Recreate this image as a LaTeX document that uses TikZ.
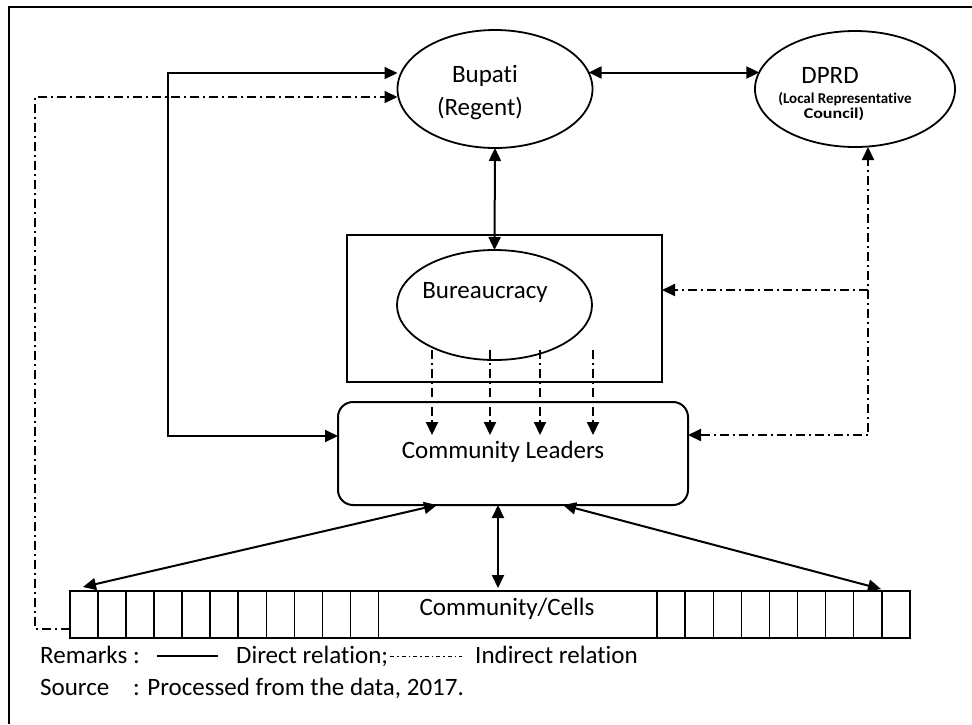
\documentclass[tikz,border=0pt]{standalone}
\usepackage{fontspec}
\setmainfont{Carlito}[Ligatures=NoCommon]
\usetikzlibrary{arrows.meta,shapes.geometric,calc}
\begin{document}
\begin{tikzpicture}[x=1pt,y=-1pt,
  >={Triangle[length=13pt,width=12pt]},
  direct/.style={line width=2pt},
  indirect/.style={line width=2pt, dash pattern=on 9pt off 4pt on 2pt off 4pt},
  legenddash/.style={line width=1pt, dash pattern=on 4pt off 3pt on 1.5pt off 3pt},
  ell/.style={draw, ellipse, line width=1.8pt, inner sep=0pt, outer sep=0pt},
  boxnode/.style={draw, rectangle, line width=2pt, inner sep=0pt, outer sep=0pt},
  cellbox/.style={draw, rectangle, line width=1.4pt, inner sep=0pt, outer sep=0pt},
  cellline/.style={line width=1.4pt},
  lbl/.style={inner sep=0pt, anchor=base, font=\fontsize{25}{30}\selectfont},
  smalllbl/.style={inner sep=0pt, anchor=base, font=\bfseries\fontsize{15}{17}\selectfont}
]
\useasboundingbox (0,0) rectangle (972,724);
% frame
\draw[line width=2pt] (972,7) -- (9,7) -- (9,724);

% nodes
\node[ell, minimum width=195pt, minimum height=118pt] (bupati) at (495,89) {};
\node[lbl] (bupatiT1) at (485,82) {Bupati};
\node[lbl] (bupatiT2) at (480,115) {(Regent)};

\node[ell, minimum width=200pt, minimum height=116pt] (dprd) at (855,89) {};
\node[lbl] (dprdT1) at (830,83) {DPRD};
\node[smalllbl] (dprdT2) at (845,103) {(Local Representative};
\node[smalllbl] (dprdT3) at (834,118) {\scalebox{1.2}[1]{Council)}};

\node[boxnode, minimum width=315pt, minimum height=147pt] (brect) at (504.5,308.5) {};
\node[ell, minimum width=195pt, minimum height=110pt] (bur) at (494.5,305) {};
\node[lbl] (burT) at (485,298) {Bureaucracy};

\node[boxnode, rounded corners=15pt, minimum width=350pt, minimum height=103pt] (cl) at (513,453.5) {};
\node[lbl] (clT) at (503,458) {Community Leaders};

\node[cellbox, minimum width=840pt, minimum height=47pt] (cells) at (490,614.5) {};
\node[lbl] (cellsT) at (507,615) {Community/Cells};
\foreach \i in {1,...,11}
  \draw[cellline] ($(cells.north west)+(\i*28.03,0)$) -- ($(cells.south west)+(\i*28.03,0)$);
\foreach \i in {0,...,8}
  \draw[cellline] ($(cells.north west)+(587+\i*28.1,0)$) -- ($(cells.south west)+(587+\i*28.1,0)$);

% coordinates
\coordinate (L1) at (168,73);
\coordinate (L2) at (168,436);
\coordinate (D1) at (35,97);
\coordinate (D2) at (35,629);
\coordinate (R1) at (868,290);
\coordinate (R2) at (868,435);

% direct relations
\draw[direct,<->] (bupati.10) -- (dprd.170 |- bupati.10);
\draw[direct,<->] (bupati.south) -- (bur.north);
\draw[direct,<->] (bupati.west |- L1) -- (L1) -- (L2) -- (cl.west |- L2);
\draw[direct,<->] ($(cl.south west)+(99,0)$) -- ($(cells.north west)+(13,-4)$);
\draw[direct,<->] ($(cl.south west)+(225,0)$) -- ($(cells.north west)+(811,-2)$);
\draw[direct,<->] ($(cl.south west)+(160,0)$) -- ($(cells.north west)+(428,-3)$);

% indirect relations
\draw[indirect,->] (cells.west |- D2) -- (D2) -- (D1) -- (bupati.west |- D1);
\draw[indirect,<->] (cl.east |- R2) -- (R2) -- (dprd.south -| R2);
\draw[indirect,->] (R1) -- (brect.east |- R1);
\foreach \x in {432,490,540,593}
  \draw[indirect,->] (bur.south -| \x,0) ++(0,-10) -- ($(cl.north -| \x,0)+(0,33)$);

% legend
\node[lbl, anchor=base west] (rem) at (40,663) {Remarks :};
\coordinate (LS1) at (157,656);
\coordinate (LS2) at (218,656);
\draw[line width=1.2pt] (LS1) -- (LS2);
\node[lbl, anchor=base west] (dir) at (236,663) {Direct relation;};
\coordinate (LD1) at (390,656);
\coordinate (LD2) at (462,656);
\draw[legenddash] (LD1) -- (LD2);
\node[lbl, anchor=base west] (ind) at (475,663) {Indirect relation};
\node[lbl, anchor=base west] (src) at (40,695) {Source};
\node[lbl, anchor=base west] (src2) at (133,695) {: Processed from the data, 2017.};
\end{tikzpicture}
\end{document}
